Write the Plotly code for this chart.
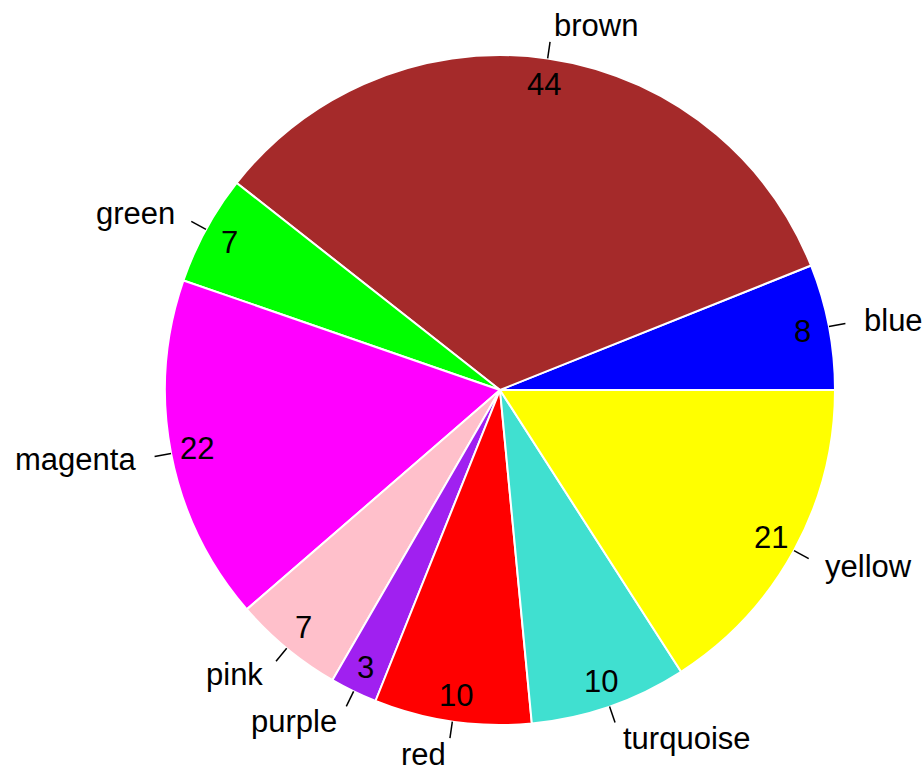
import math
import plotly.graph_objects as go

# Slice data (drawn counterclockwise from 3 o'clock)
labels = ["blue", "brown", "green", "magenta", "pink", "purple", "red", "turquoise", "yellow"]
values = [8, 44, 7, 22, 7, 3, 10, 10, 21]
colors = ["#0000FF", "#A52A2A", "#00FF00", "#FF00FF", "#FFC0CB",
          "#A020F0", "#FF0000", "#40E0D0", "#FFFF00"]

W, H = 924, 773
CX, CY, R = 500, 390, 335          # pie centre and radius in pixels
FONT = dict(family="Liberation Sans, Arial, sans-serif", size=31, color="black")

total = sum(values)

fig = go.Figure(go.Pie(
    labels=labels,
    values=values,
    marker=dict(colors=colors, line=dict(color="white", width=2)),
    sort=False,
    direction="counterclockwise",
    # first slice begins at 3 o'clock and runs counterclockwise
    rotation=90 - 360 * values[0] / total,
    textinfo="none",
    hoverinfo="label+value",
    showlegend=False,
    domain=dict(x=[(CX - R) / W, (CX + R) / W],
                y=[1 - (CY + R) / H, 1 - (CY - R) / H]),
))


def to_paper(px, py):
    return px / W, 1 - py / H


cum = 0
annotations, shapes = [], []
for lab, val in zip(labels, values):
    mid = (cum + val / 2) / total * 2 * math.pi
    cum += val
    c, s = math.cos(mid), math.sin(mid)

    # tick from the rim outward
    x0, y0 = to_paper(CX + R * c, CY - R * s)
    x1, y1 = to_paper(CX + 1.05 * R * c, CY - 1.05 * R * s)
    shapes.append(dict(type="line", xref="paper", yref="paper",
                       x0=x0, y0=y0, x1=x1, y1=y1,
                       line=dict(color="black", width=1.5)))

    # category label outside the pie
    lx, ly = to_paper(CX + 1.1 * R * c, CY - 1.1 * R * s)
    annotations.append(dict(text=lab, x=lx, y=ly, xref="paper", yref="paper",
                            xanchor="left" if c >= 0 else "right",
                            yanchor="middle", showarrow=False, font=FONT))

    # value label just inside the rim
    vx, vy = to_paper(CX + 0.92 * R * c, CY - 0.92 * R * s)
    annotations.append(dict(text=str(val), x=vx, y=vy, xref="paper", yref="paper",
                            xanchor="center", yanchor="middle", showarrow=False,
                            font=FONT))

fig.update_layout(
    width=W, height=H,
    margin=dict(l=0, r=0, t=0, b=0),
    paper_bgcolor="white",
    plot_bgcolor="white",
    annotations=annotations,
    shapes=shapes,
)

fig.write_html("out.html")
